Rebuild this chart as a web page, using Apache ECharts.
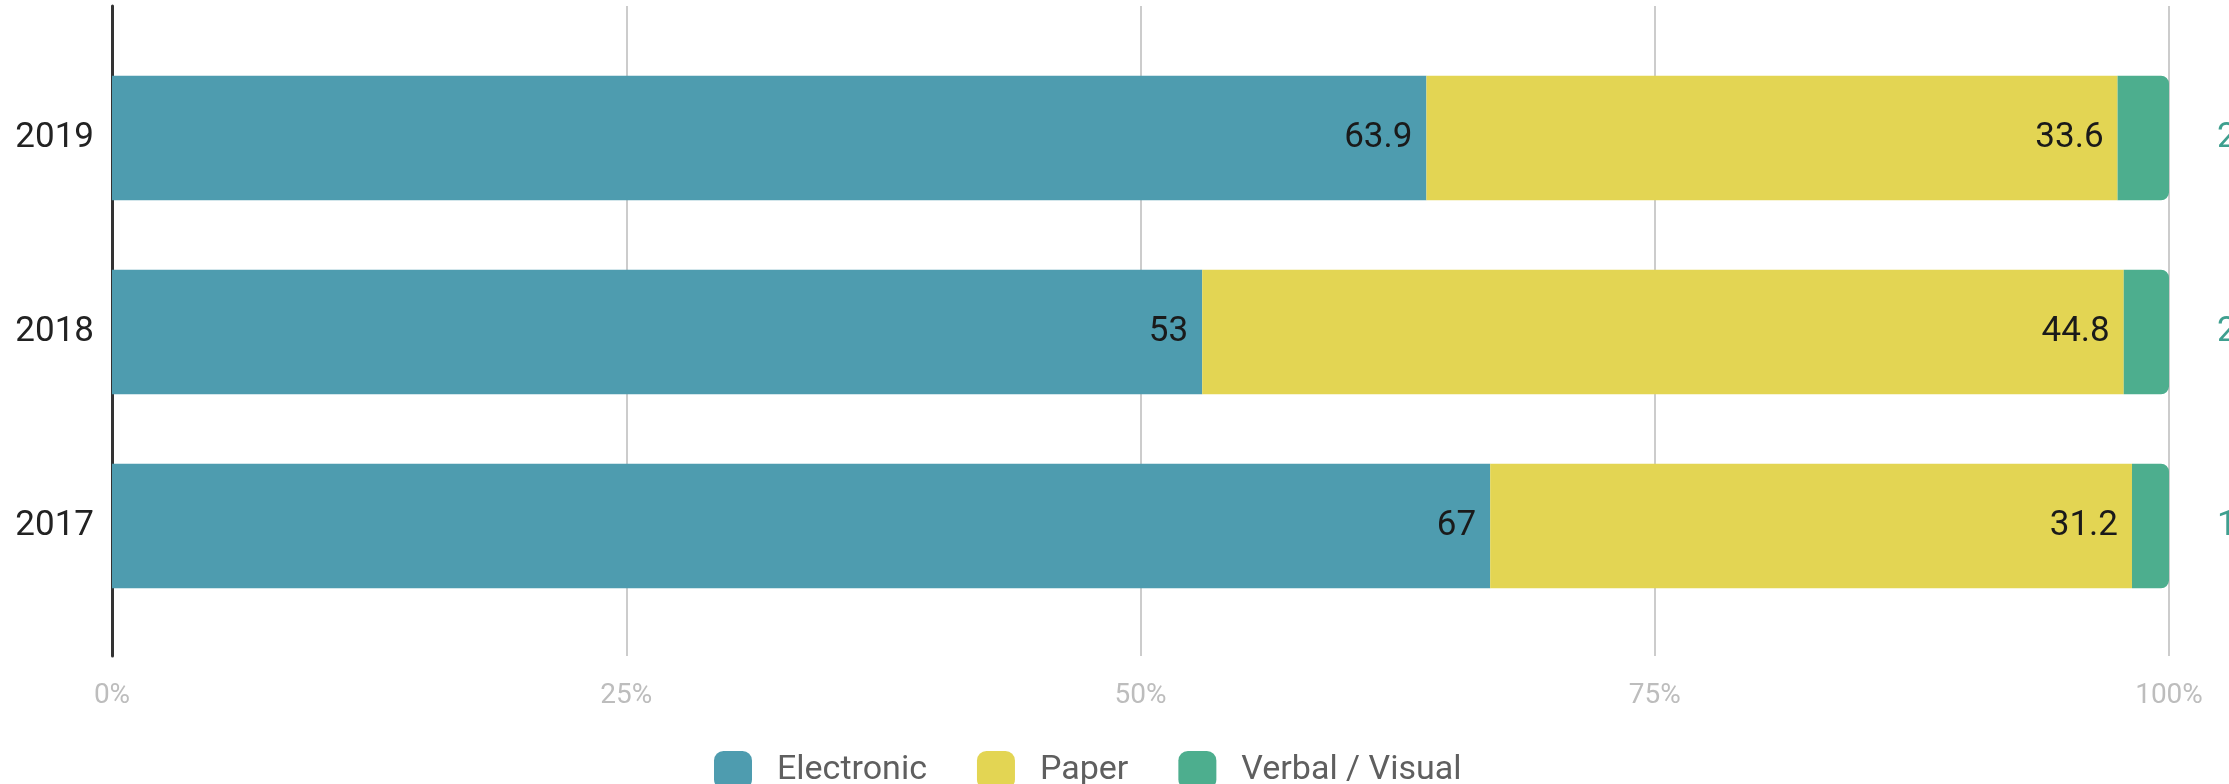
<!DOCTYPE html>
<html>
<head>
<meta charset="utf-8">
<script src="https://cdn.jsdelivr.net/npm/echarts@6/dist/echarts.min.js"></script>
<style>
html,body{margin:0;padding:0;background:#fff;}
#chart{width:2229px;height:784px;}
</style>
</head>
<body>
<div id="chart"></div>
<script>
var categories = ['2017', '2018', '2019'];
var electronic = [67, 53, 63.9];
var paper = [31.2, 44.8, 33.6];
var verbalVisual = [1.8, 2.2, 2.5];
var seriesNames = ['Electronic', 'Paper', 'Verbal / Visual'];
var colors = ['#4E9CAF', '#E3D553', '#4DAE8E'];

var chart = echarts.init(document.getElementById('chart'));
var FONT = 'Roboto';
var gridL = 112, gridR = 60;

var option = {
  backgroundColor: '#ffffff',
  animation: false,
  textStyle: { fontFamily: FONT },
  color: colors,
  grid: [
    { left: gridL, right: gridR, top: 6, height: 650, containLabel: false },
    { left: gridL, right: gridR, top: 41, height: 582, containLabel: false }
  ],
  xAxis: [
    {
      gridIndex: 0, type: 'value', min: 0, max: 100, interval: 25,
      axisLine: { show: false }, axisTick: { show: false },
      splitLine: { show: true, lineStyle: { color: '#cccccc', width: 2 } },
      axisLabel: { formatter: '{value}%', color: '#bdbdbd', fontSize: 28, margin: 26, fontFamily: FONT }
    },
    { gridIndex: 1, type: 'value', min: 0, max: 100, show: false }
  ],
  yAxis: [
    {
      gridIndex: 0, type: 'value', min: 0, max: 1,
      axisLine: { show: true, onZero: false, lineStyle: { color: '#333333', width: 3 } },
      axisTick: { show: false }, axisLabel: { show: false }, splitLine: { show: false }
    },
    {
      gridIndex: 1, type: 'category', data: categories,
      axisLine: { show: false }, axisTick: { show: false }, splitLine: { show: false },
      axisLabel: { color: '#222222', fontSize: 35, margin: 18, fontFamily: FONT }
    }
  ],
  legend: {
    data: seriesNames,
    left: 709, top: 746,
    itemWidth: 38, itemHeight: 38, itemGap: 50,
    icon: 'roundRect',
    textStyle: { color: '#5f5f5f', fontSize: 34, fontFamily: FONT, padding: [0, 0, 0, 20] }
  },
  series: [
    {
      name: seriesNames[0], type: 'bar', stack: 'total', xAxisIndex: 1, yAxisIndex: 1,
      data: electronic, barCategoryGap: '35.7%',
      itemStyle: { color: colors[0] },
      label: { show: true, position: 'insideRight', distance: 14, color: '#1a1a1a', fontSize: 35, fontFamily: FONT }
    },
    {
      name: seriesNames[1], type: 'bar', stack: 'total', xAxisIndex: 1, yAxisIndex: 1,
      data: paper, barCategoryGap: '35.7%',
      itemStyle: { color: colors[1] },
      label: { show: true, position: 'insideRight', distance: 14, color: '#1a1a1a', fontSize: 35, fontFamily: FONT }
    },
    {
      name: seriesNames[2], type: 'bar', stack: 'total', xAxisIndex: 1, yAxisIndex: 1,
      data: verbalVisual, barCategoryGap: '35.7%',
      itemStyle: { color: colors[2], borderRadius: [0, 8, 8, 0] },
      label: { show: true, position: 'right', distance: 48, color: '#3f9f8f', fontSize: 35, fontFamily: FONT }
    }
  ]
};
chart.setOption(option);
</script>
</body>
</html>
